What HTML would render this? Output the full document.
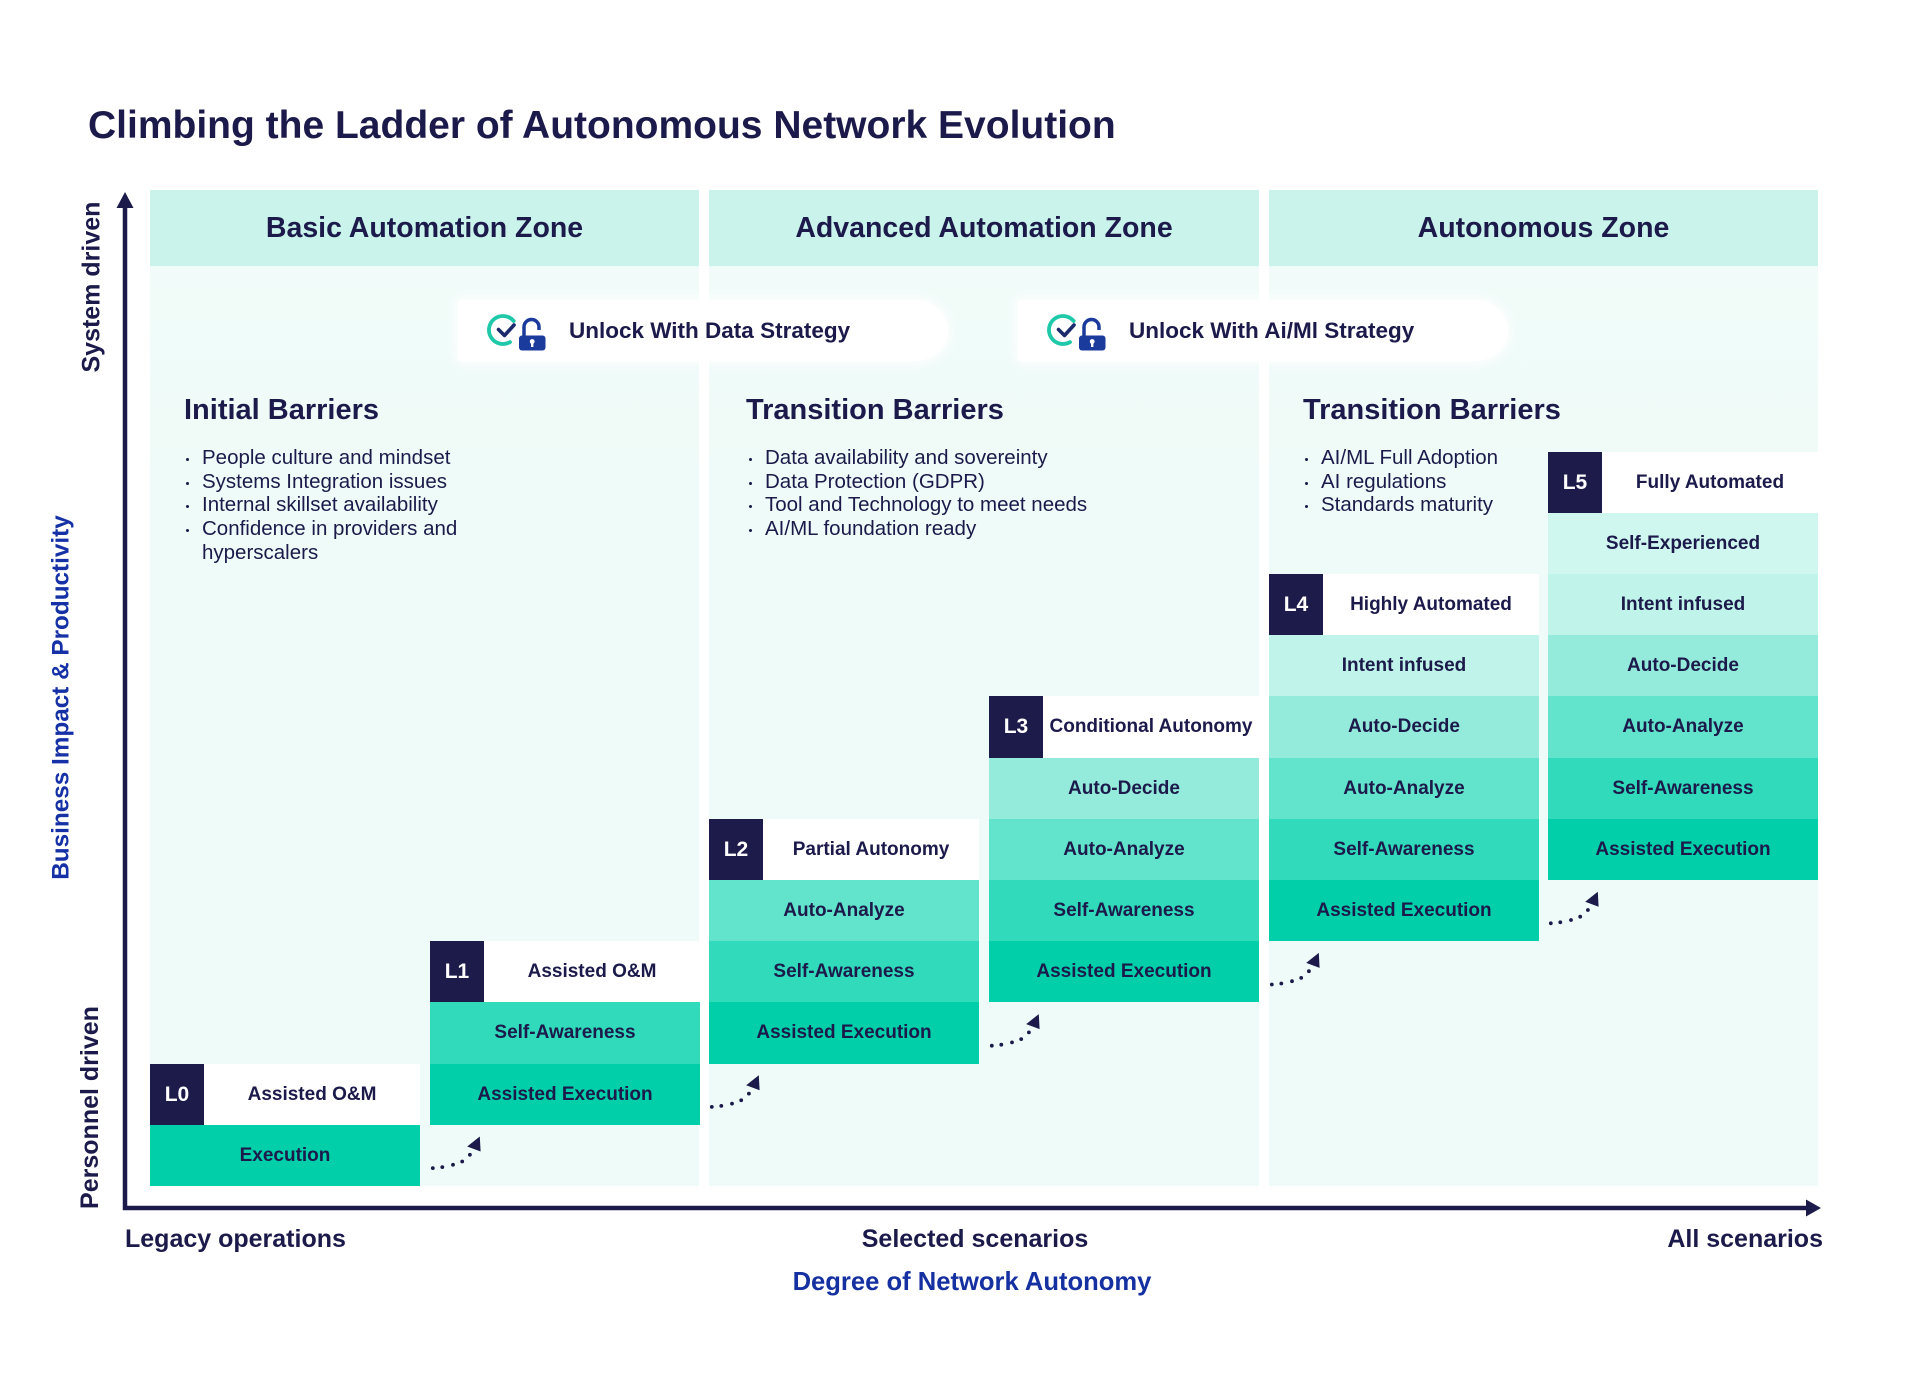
<!DOCTYPE html>
<html>
<head>
<meta charset="utf-8">
<style>
  html,body{margin:0;padding:0;background:#fff;}
  body{width:1920px;height:1400px;position:relative;overflow:hidden;font-family:"Liberation Sans",sans-serif;color:#1b1a4a;}
  .abs{position:absolute;}
  .t{position:absolute;line-height:1;white-space:nowrap;}
  .zone{position:absolute;top:190px;height:996px;background:linear-gradient(#f2fcfa,#effbf8 30%,#effbf8);}
  .zh{position:absolute;left:0;right:0;top:0;height:76px;background:#c9f3eb;display:flex;align-items:center;justify-content:center;font-weight:bold;font-size:28.5px;line-height:1;color:#1b1a4a;}
  .bh{position:absolute;font-weight:bold;font-size:29px;line-height:1;white-space:nowrap;}
  .bl{position:absolute;font-size:20.5px;line-height:23.8px;white-space:nowrap;color:#1b1a4a;}
  .bl div{position:relative;}
  .bl div.b::before{content:"";position:absolute;left:-16px;top:12px;width:3px;height:3px;border-radius:50%;background:#1b1a4a;}
  .col{position:absolute;width:270px;display:flex;flex-direction:column;}
  .row{height:61.2px;display:flex;align-items:center;justify-content:center;font-weight:bold;font-size:19px;line-height:1;white-space:nowrap;color:#1b1a4a;}
  .hdr{height:61.2px;display:flex;background:#fff;}
  .badge{width:54px;height:100%;background:#1c1b4a;color:#fff;display:flex;align-items:center;justify-content:center;font-weight:bold;font-size:21px;line-height:1;}
  .hl{flex:1;display:flex;align-items:center;justify-content:center;font-weight:bold;font-size:19px;line-height:1;white-space:nowrap;}
  .ex{background:#00cfa9;}
  .sa{background:#30dabb;}
  .aa{background:#62e3cb;}
  .ad{background:#94ebdb;}
  .ii{background:#c0f4ea;}
  .se{background:#cff6ef;}
  .banner{position:absolute;top:300px;height:61px;width:490px;background:#fff;border-radius:3px 34px 34px 3px/3px 30px 30px 3px;box-shadow:0 0 10px 3px rgba(255,255,255,0.9);}
  .btxt{position:absolute;top:319.7px;font-weight:bold;font-size:22.5px;line-height:1;white-space:nowrap;color:#1b1a4a;}
  .rot{position:absolute;line-height:1;white-space:nowrap;font-weight:bold;text-align:center;transform:rotate(-90deg);transform-origin:center center;}
</style>
</head>
<body>

<!-- Title -->
<div class="t" style="left:88px;top:106px;font-size:39px;font-weight:bold;color:#1b1a4a;">Climbing the Ladder of Autonomous Network Evolution</div>

<!-- Zones -->
<div class="zone" style="left:150px;width:549px;"><div class="zh">Basic Automation Zone</div></div>
<div class="zone" style="left:709px;width:550px;"><div class="zh">Advanced Automation Zone</div></div>
<div class="zone" style="left:1269px;width:549px;"><div class="zh">Autonomous Zone</div></div>

<!-- Banners -->
<div class="banner" style="left:458px;"></div>
<div class="banner" style="left:1018px;"></div>
<div class="btxt" style="left:569px;">Unlock With Data Strategy</div>
<div class="btxt" style="left:1129px;">Unlock With Ai/Ml Strategy</div>

<!-- Barrier headings -->
<div class="bh" style="left:184px;top:395.5px;">Initial Barriers</div>
<div class="bh" style="left:746px;top:395.5px;">Transition Barriers</div>
<div class="bh" style="left:1303px;top:395.5px;">Transition Barriers</div>

<!-- Bullet lists -->
<div class="bl" style="left:202px;top:445.8px;">
  <div class="b">People culture and mindset</div>
  <div class="b">Systems Integration issues</div>
  <div class="b">Internal skillset availability</div>
  <div class="b">Confidence in providers and</div>
  <div>hyperscalers</div>
</div>
<div class="bl" style="left:765px;top:445.8px;">
  <div class="b">Data availability and sovereinty</div>
  <div class="b">Data Protection (GDPR)</div>
  <div class="b">Tool and Technology to meet needs</div>
  <div class="b">AI/ML foundation ready</div>
</div>
<div class="bl" style="left:1321px;top:445.8px;">
  <div class="b">AI/ML Full Adoption</div>
  <div class="b">AI regulations</div>
  <div class="b">Standards maturity</div>
</div>

<!-- Level columns -->
<div class="col" style="left:150px;top:1063.6px;">
  <div class="hdr"><div class="badge">L0</div><div class="hl">Assisted O&amp;M</div></div>
  <div class="row ex">Execution</div>
</div>
<div class="col" style="left:430px;top:941.2px;">
  <div class="hdr"><div class="badge">L1</div><div class="hl">Assisted O&amp;M</div></div>
  <div class="row sa">Self-Awareness</div>
  <div class="row ex">Assisted Execution</div>
</div>
<div class="col" style="left:709px;top:818.8px;">
  <div class="hdr"><div class="badge">L2</div><div class="hl">Partial Autonomy</div></div>
  <div class="row aa">Auto-Analyze</div>
  <div class="row sa">Self-Awareness</div>
  <div class="row ex">Assisted Execution</div>
</div>
<div class="col" style="left:989px;top:696.4px;">
  <div class="hdr"><div class="badge">L3</div><div class="hl">Conditional Autonomy</div></div>
  <div class="row ad">Auto-Decide</div>
  <div class="row aa">Auto-Analyze</div>
  <div class="row sa">Self-Awareness</div>
  <div class="row ex">Assisted Execution</div>
</div>
<div class="col" style="left:1269px;top:574px;">
  <div class="hdr"><div class="badge">L4</div><div class="hl">Highly Automated</div></div>
  <div class="row ii">Intent infused</div>
  <div class="row ad">Auto-Decide</div>
  <div class="row aa">Auto-Analyze</div>
  <div class="row sa">Self-Awareness</div>
  <div class="row ex">Assisted Execution</div>
</div>
<div class="col" style="left:1548px;top:451.6px;">
  <div class="hdr"><div class="badge">L5</div><div class="hl">Fully Automated</div></div>
  <div class="row se">Self-Experienced</div>
  <div class="row ii">Intent infused</div>
  <div class="row ad">Auto-Decide</div>
  <div class="row aa">Auto-Analyze</div>
  <div class="row sa">Self-Awareness</div>
  <div class="row ex">Assisted Execution</div>
</div>

<!-- SVG overlay: axes, arrows, icons -->
<svg class="abs" style="left:0;top:0;" width="1920" height="1400" viewBox="0 0 1920 1400">
  <!-- Y axis -->
  <line x1="125" y1="200" x2="125" y2="1210" stroke="#1b1a4a" stroke-width="4.5"/>
  <polygon points="116.5,208 133.5,208 125,192" fill="#1b1a4a"/>
  <!-- X axis -->
  <line x1="123" y1="1208" x2="1810" y2="1208" stroke="#1b1a4a" stroke-width="4.5"/>
  <polygon points="1806,1199.5 1806,1216.5 1821,1208" fill="#1b1a4a"/>

  <!-- dotted arrows -->
  <g fill="#1b1a4a">
    <g transform="translate(430,1124.8)">
      <circle cx="2.8" cy="43.3" r="1.9"/><circle cx="12.3" cy="42.3" r="1.9"/><circle cx="23" cy="40" r="1.9"/><circle cx="32.2" cy="36.7" r="1.9"/><circle cx="39.9" cy="30" r="1.9"/>
      <polygon points="37.2,21.7 49.8,11.7 50.6,26.7"/>
    </g>
    <g transform="translate(709,1063.6)">
      <circle cx="2.8" cy="43.3" r="1.9"/><circle cx="12.3" cy="42.3" r="1.9"/><circle cx="23" cy="40" r="1.9"/><circle cx="32.2" cy="36.7" r="1.9"/><circle cx="39.9" cy="30" r="1.9"/>
      <polygon points="37.2,21.7 49.8,11.7 50.6,26.7"/>
    </g>
    <g transform="translate(989,1002.4)">
      <circle cx="2.8" cy="43.3" r="1.9"/><circle cx="12.3" cy="42.3" r="1.9"/><circle cx="23" cy="40" r="1.9"/><circle cx="32.2" cy="36.7" r="1.9"/><circle cx="39.9" cy="30" r="1.9"/>
      <polygon points="37.2,21.7 49.8,11.7 50.6,26.7"/>
    </g>
    <g transform="translate(1269,941.2)">
      <circle cx="2.8" cy="43.3" r="1.9"/><circle cx="12.3" cy="42.3" r="1.9"/><circle cx="23" cy="40" r="1.9"/><circle cx="32.2" cy="36.7" r="1.9"/><circle cx="39.9" cy="30" r="1.9"/>
      <polygon points="37.2,21.7 49.8,11.7 50.6,26.7"/>
    </g>
    <g transform="translate(1548,880)">
      <circle cx="2.8" cy="43.3" r="1.9"/><circle cx="12.3" cy="42.3" r="1.9"/><circle cx="23" cy="40" r="1.9"/><circle cx="32.2" cy="36.7" r="1.9"/><circle cx="39.9" cy="30" r="1.9"/>
      <polygon points="37.2,21.7 49.8,11.7 50.6,26.7"/>
    </g>
  </g>

  <!-- unlock icons -->
  <g transform="translate(0,0)">
    <path d="M513.7,321 A14,14 0 1 0 510,342.1" fill="none" stroke="#1fc8a8" stroke-width="3.8" stroke-linecap="round"/>
    <polyline points="498.5,329.5 504.5,335.5 514,325" fill="none" stroke="#1b2a6c" stroke-width="3.6" stroke-linecap="round" stroke-linejoin="round"/>
    <path d="M524,337 V327 A7.5,7.5 0 0 1 539,327 V330" fill="none" stroke="#1a3a9c" stroke-width="3.5"/>
    <rect x="519" y="335.5" width="26.5" height="15" rx="3" fill="#1a3a9c"/>
    <circle cx="532.2" cy="341.5" r="2.4" fill="#fff"/>
    <rect x="531" y="342" width="2.4" height="5" fill="#fff"/>
  </g>
  <g transform="translate(560,0)">
    <path d="M513.7,321 A14,14 0 1 0 510,342.1" fill="none" stroke="#1fc8a8" stroke-width="3.8" stroke-linecap="round"/>
    <polyline points="498.5,329.5 504.5,335.5 514,325" fill="none" stroke="#1b2a6c" stroke-width="3.6" stroke-linecap="round" stroke-linejoin="round"/>
    <path d="M524,337 V327 A7.5,7.5 0 0 1 539,327 V330" fill="none" stroke="#1a3a9c" stroke-width="3.5"/>
    <rect x="519" y="335.5" width="26.5" height="15" rx="3" fill="#1a3a9c"/>
    <circle cx="532.2" cy="341.5" r="2.4" fill="#fff"/>
    <rect x="531" y="342" width="2.4" height="5" fill="#fff"/>
  </g>
</svg>

<!-- Y axis labels (rotated) -->
<div class="rot" style="left:7px;top:274.5px;width:170px;height:25px;font-size:25px;color:#1b1a4a;">System driven</div>
<div class="rot" style="left:-124px;top:684.5px;width:372px;height:25px;font-size:24.3px;color:#1631a6;">Business Impact &amp; Productivity</div>
<div class="rot" style="left:-11px;top:1095px;width:203px;height:25px;font-size:25px;color:#1b1a4a;">Personnel driven</div>

<!-- X axis labels -->
<div class="t" style="left:125px;top:1227px;font-size:25px;font-weight:bold;">Legacy operations</div>
<div class="t" style="left:775px;top:1227px;width:400px;text-align:center;font-size:25px;font-weight:bold;">Selected scenarios</div>
<div class="t" style="left:1523px;top:1227px;width:300px;text-align:right;font-size:25px;font-weight:bold;">All scenarios</div>
<div class="t" style="left:722px;top:1270px;width:500px;text-align:center;font-size:25.6px;font-weight:bold;color:#1530a0;">Degree of Network Autonomy</div>

</body>
</html>
